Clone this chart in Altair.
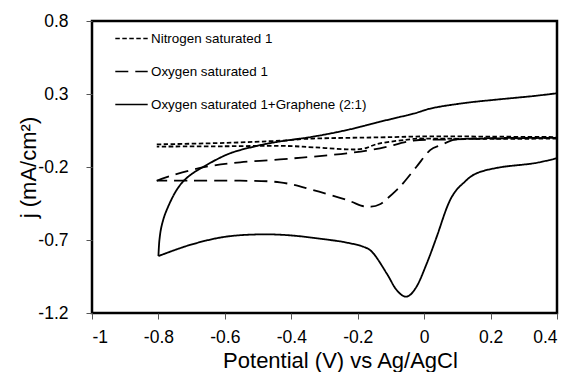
import altair as alt
import pandas as pd

# Cyclic voltammograms: each sweep branch is traced in order (x = potential, y = current density)
series_names = [
    "Nitrogen saturated 1",
    "Oxygen saturated 1",
    "Oxygen saturated 1+Graphene (2:1)",
]

# nitrogen: cathodic branch (0.4 -> -0.8), then anodic branch (-0.8 -> 0.4)
n2_dn_x = [0.40, 0.20, 0.00, -0.033, -0.133, -0.183, -0.233, -0.334, -0.434, -0.60, -0.805]
n2_dn_y = [-0.005, -0.008, -0.005, -0.008, -0.038, -0.075, -0.079, -0.065, -0.055, -0.058, -0.060]
n2_up_x = [-0.805, -0.60, -0.434, -0.334, -0.133, 0.018, 0.20, 0.40]
n2_up_y = [-0.045, -0.035, -0.020, -0.005, 0.003, 0.010, 0.008, 0.005]

# oxygen: cathodic branch with the reduction peak, then anodic branch
o2_dn_x = [0.40, 0.30, 0.20, 0.12, 0.088, 0.05, 0.018, -0.023, -0.063, -0.083, -0.113, -0.133,
           -0.16, -0.19, -0.233, -0.334, -0.434, -0.554, -0.705, -0.805]
o2_dn_y = [0.000, 0.000, -0.002, -0.008, -0.015, -0.050, -0.084, -0.198, -0.310, -0.358, -0.420, -0.455,
           -0.472, -0.465, -0.426, -0.358, -0.305, -0.294, -0.294, -0.294]
o2_up_x = [-0.805, -0.755, -0.655, -0.554, -0.434, -0.334, -0.233, -0.133, -0.033, 0.058, 0.20, 0.40]
o2_up_y = [-0.294, -0.255, -0.198, -0.168, -0.148, -0.129, -0.106, -0.072, -0.020, -0.012, -0.005, 0.000]

# graphene: anodic branch (-0.8 -> 0.4) then cathodic branch (0.4 -> -0.8)
gr_up_x = [-0.80, -0.797, -0.79, -0.775, -0.745, -0.71, -0.655, -0.584, -0.504, -0.434, -0.334,
           -0.233, -0.133, -0.033, 0.028, 0.128, 0.229, 0.329, 0.40]
gr_up_y = [-0.81, -0.70, -0.60, -0.494, -0.357, -0.266, -0.186, -0.106, -0.056, -0.025, 0.008,
           0.053, 0.110, 0.165, 0.205, 0.240, 0.264, 0.286, 0.305]
gr_dn_x = [0.40, 0.329, 0.229, 0.158, 0.118, 0.09, 0.068, 0.038, 0.008, -0.023, -0.053, -0.083,
           -0.113, -0.153, -0.183, -0.233, -0.283, -0.404, -0.504, -0.605, -0.705, -0.80]
gr_dn_y = [-0.140, -0.175, -0.202, -0.243, -0.310, -0.380, -0.480, -0.677, -0.860, -1.020, -1.088, -1.042,
           -0.928, -0.791, -0.746, -0.718, -0.700, -0.668, -0.662, -0.680, -0.734, -0.81]

x_ticks = [-1, -0.8, -0.6, -0.4, -0.2, 0, 0.2, 0.4]
y_ticks = [-1.2, -0.7, -0.2, 0.3, 0.8]

branches = [
    (series_names[0], "n2_dn", n2_dn_x, n2_dn_y),
    (series_names[0], "n2_up", n2_up_x, n2_up_y),
    (series_names[1], "o2_dn", o2_dn_x, o2_dn_y),
    (series_names[1], "o2_up", o2_up_x, o2_up_y),
    (series_names[2], "gr_up", gr_up_x, gr_up_y),
    (series_names[2], "gr_dn", gr_dn_x, gr_dn_y),
]

rows = []
for name, seg, xs, ys in branches:
    for i, (xv, yv) in enumerate(zip(xs, ys)):
        rows.append({"series": name, "seg": seg, "i": i, "E": xv, "j": yv})
df = pd.DataFrame(rows)

FONT = "Liberation Sans"
MINUS = "\u2212"

chart = alt.Chart(df).mark_line(
    color="black", strokeWidth=1.8, interpolate="cardinal", clip=True
).encode(
    x=alt.X(
        "E:Q",
        scale=alt.Scale(domain=[-1, 0.4], nice=False, zero=False),
        axis=alt.Axis(
            values=x_ticks,
            labelExpr=f"replace(format(datum.value, '~g'), '{MINUS}', '-')",
            title="Potential (V) vs Ag/AgCl",
            titleX=248, titleY=54, titleBaseline="alphabetic", titleAnchor="start",
            titleAlign="center",
            grid=False, domain=False,
            tickSize=6, tickColor="#555555", tickWidth=1,
            labelPadding=9, labelFontSize=17.5, titleFontSize=22,
            labelColor="black", titleColor="black", titleFontWeight="normal",
        ),
    ),
    y=alt.Y(
        "j:Q",
        scale=alt.Scale(domain=[-1.2, 0.8], nice=False, zero=False),
        axis=alt.Axis(
            values=y_ticks,
            labelExpr=f"replace(format(datum.value, '.1f'), '{MINUS}', '-')",
            title="j (mA/cm²)",
            titleX=-57, titleY=146, titleBaseline="alphabetic", titleAngle=-90,
            titleAlign="center", titleAnchor="start",
            grid=False, domain=False,
            tickSize=6, tickColor="#555555", tickWidth=1,
            labelPadding=18, labelFontSize=17.5, titleFontSize=22,
            labelColor="black", titleColor="black", titleFontWeight="normal",
        ),
    ),
    strokeDash=alt.StrokeDash(
        "series:N",
        scale=alt.Scale(domain=series_names, range=[[4.5, 2.5], [13, 7], [1, 0]]),
        legend=alt.Legend(
            title=None, orient="none", legendX=22, legendY=0,
            symbolType="stroke", symbolSize=1050, symbolStrokeWidth=1.6,
            symbolStrokeColor="black", labelFontSize=13.4, labelColor="black",
            labelOffset=2, rowPadding=9, padding=0, labelLimit=400,
        ),
    ),
    detail="seg:N",
    order=alt.Order("i:Q"),
).properties(
    width=465,
    height=292,
    autosize=alt.AutoSizeParams(type="none"),
    padding={"left": 92, "top": 21, "right": 15, "bottom": 59},
).configure(
    font=FONT,
).configure_view(
    stroke="black", strokeWidth=2.5,
)

chart.save("out.html", embed_options={"renderer": "svg", "actions": False})
